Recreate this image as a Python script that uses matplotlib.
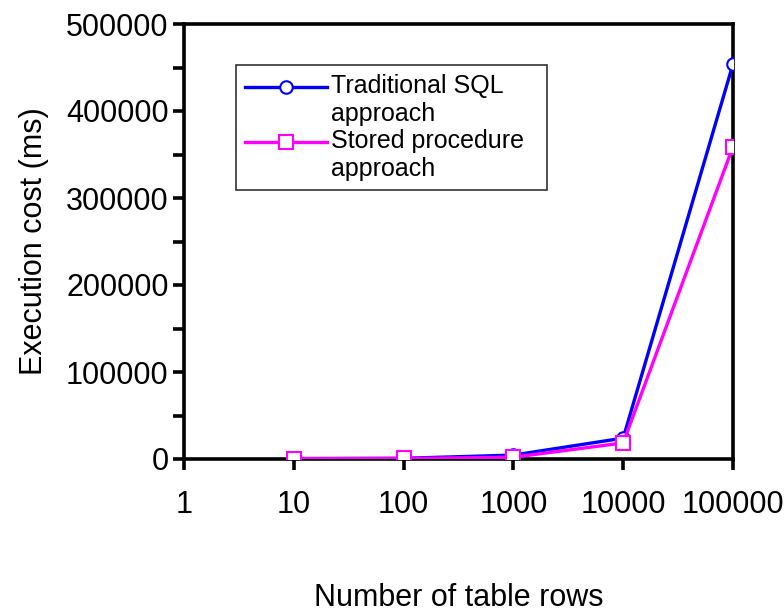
import matplotlib.pyplot as plt
from matplotlib.lines import Line2D
from matplotlib.legend_handler import HandlerLine2D
from matplotlib.ticker import MultipleLocator, FixedLocator, NullLocator

plt.rcParams['font.family'] = ['Liberation Sans', 'DejaVu Sans']

rows = [10, 100, 1000, 10000, 100000]
traditional = [500, 800, 4500, 24000, 454000]
stored = [400, 600, 2000, 18500, 359000]
x_ticks = [1, 10, 100, 1000, 10000, 100000]


class FirstLineHandler(HandlerLine2D):
    # put the legend sample level with the first line of a two-line label
    def create_artists(self, legend, orig_handle, xdescent, ydescent,
                       width, height, fontsize, trans):
        shift = 0.55 * fontsize
        return super().create_artists(legend, orig_handle, xdescent,
                                      ydescent - 2 * shift, width, height,
                                      fontsize, trans)


fig = plt.figure(figsize=(7.84, 6.13), dpi=100)
ax = fig.add_axes([184 / 784, 1 - 459 / 613, (733 - 184) / 784, (459 - 24) / 613])

ax.plot(rows, traditional, color='#0000ff', lw=2.4, marker='o', ms=9,
        mfc='white', mec='#0000ff', mew=1.5, label='Traditional SQL   \napproach', zorder=3)
ax.plot(rows, stored, color='#ff00ff', lw=2.4, marker='s', ms=10,
        mfc='white', mec='#ff00ff', mew=1.5, label='Stored procedure  \napproach', zorder=3)

ax.set_xscale('log')
ax.set_xlim(1, 100000)
ax.xaxis.set_major_locator(FixedLocator(x_ticks))
ax.xaxis.set_minor_locator(NullLocator())
ax.set_xticklabels([str(v) for v in x_ticks])
ax.set_ylim(0, 500000)
ax.yaxis.set_major_locator(MultipleLocator(100000))
ax.yaxis.set_minor_locator(MultipleLocator(50000))

for s in ax.spines.values():
    s.set_linewidth(2.6)
ax.tick_params(axis='both', which='major', direction='out', length=8, width=2.6,
               labelsize=22, pad=3)
ax.tick_params(axis='y', which='minor', direction='out', length=8, width=2.6)
ax.tick_params(axis='x', pad=14)

fig.text(0.5 * (184 + 733) / 784, 1 - 598 / 613, 'Number of table rows',
         fontsize=22, ha='center', va='center')
ax.set_ylabel('Execution cost (ms)', fontsize=22, labelpad=12)

leg = ax.legend(loc='upper left', bbox_to_anchor=((236 - 184) / 549, (459 - 65) / 435),
                borderaxespad=0, fontsize=18, frameon=True, fancybox=False,
                edgecolor='black', handlelength=3.3, handletextpad=0.15,
                borderpad=0.35, labelspacing=0.15,
                handler_map={Line2D: FirstLineHandler()})
leg.get_frame().set_linewidth(1.2)

fig.savefig('out.png', dpi=100)
